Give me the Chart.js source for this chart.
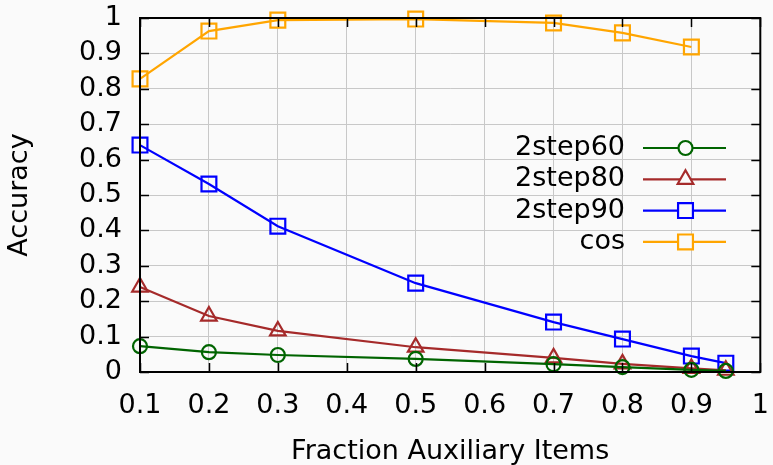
<!DOCTYPE html>
<html>
<head>
<meta charset="utf-8">
<script src="https://cdn.jsdelivr.net/npm/chart.js@4"></script>
<style>
  html, body { margin: 0; padding: 0; background: #fafafa; }
  #wrap { width: 773px; height: 465px; }
</style>
</head>
<body>
<div id="wrap"><canvas id="c" width="773" height="465"></canvas></div>
<script>
// Fraction of auxiliary items (x) and accuracy per method (y)
const fractions = [0.1, 0.2, 0.3, 0.5, 0.7, 0.8, 0.9, 0.95];
const cosFractions = [0.1, 0.2, 0.3, 0.5, 0.7, 0.8, 0.9];
const step60 = [0.073, 0.056, 0.048, 0.037, 0.022, 0.014, 0.006, 0.003];
const step80 = [0.240, 0.158, 0.116, 0.070, 0.040, 0.023, 0.010, 0.005];
const step90 = [0.641, 0.531, 0.412, 0.251, 0.141, 0.093, 0.045, 0.025];
const cosAcc = [0.828, 0.963, 0.994, 0.997, 0.986, 0.958, 0.918];
const xTicks = [0.1, 0.2, 0.3, 0.4, 0.5, 0.6, 0.7, 0.8, 0.9, 1];
const yTicks = [0, 0.1, 0.2, 0.3, 0.4, 0.5, 0.6, 0.7, 0.8, 0.9, 1];

const FONT = 'DejaVu Sans';
const FS = 27;
const pts = (xs, ys) => xs.map((x, i) => ({ x: x, y: ys[i] }));

function series(label, xs, ys, color, style, radius) {
  return {
    label: label,
    data: pts(xs, ys),
    borderColor: color,
    backgroundColor: 'rgba(0,0,0,0)',
    borderWidth: 2.2,
    pointStyle: style,
    pointRadius: radius,
    pointHoverRadius: radius,
    pointBorderColor: color,
    pointBackgroundColor: 'rgba(0,0,0,0)',
    pointBorderWidth: 2.2,
    tension: 0
  };
}

// Frame with inward tick marks on all four sides
const framePlugin = {
  id: 'frame',
  afterDatasetsDraw(chart) {
    const { ctx, chartArea: a, scales } = chart;
    ctx.save();
    ctx.strokeStyle = '#000';
    ctx.lineWidth = 1.5;
    const len = 9;
    ctx.beginPath();
    xTicks.forEach(v => {
      const px = Math.round(scales.x.getPixelForValue(v)) + 0.5;
      ctx.moveTo(px, a.bottom); ctx.lineTo(px, a.bottom - len);
      ctx.moveTo(px, a.top); ctx.lineTo(px, a.top + len);
    });
    yTicks.forEach(v => {
      const py = Math.round(scales.y.getPixelForValue(v)) + 0.5;
      ctx.moveTo(a.left, py); ctx.lineTo(a.left + len, py);
      ctx.moveTo(a.right, py); ctx.lineTo(a.right - len, py);
    });
    ctx.stroke();
    ctx.lineWidth = 2;
    ctx.strokeRect(a.left, a.top, a.right - a.left, a.bottom - a.top);
    ctx.restore();
  }
};

// Key drawn inside the plot, text right-aligned before each sample line
const keyPlugin = {
  id: 'key',
  afterDatasetsDraw(chart) {
    const { ctx } = chart;
    const textRight = 625, lineL = 643, lineR = 726, rowY0 = 148, rowH = 31.3;
    ctx.save();
    ctx.font = FS + 'px "' + FONT + '"';
    ctx.textAlign = 'right';
    ctx.textBaseline = 'middle';
    chart.data.datasets.forEach((ds, i) => {
      const y = rowY0 + i * rowH;
      ctx.fillStyle = '#000';
      ctx.fillText(ds.label, textRight, y);
      ctx.strokeStyle = ds.borderColor;
      ctx.lineWidth = 2.2;
      ctx.beginPath();
      ctx.moveTo(lineL, y); ctx.lineTo(lineR, y);
      ctx.stroke();
      ctx.fillStyle = '#fafafa';
      Chart.helpers.drawPoint(ctx, {
        pointStyle: ds.pointStyle, radius: ds.pointRadius, borderWidth: 2.2, rotation: 0
      }, (lineL + lineR) / 2 + 1, y);
    });
    ctx.restore();
  }
};

new Chart(document.getElementById('c'), {
  type: 'line',
  data: {
    datasets: [
      series('2step60', fractions, step60, '#006400', 'circle', 7),
      series('2step80', fractions, step80, '#a52a2a', 'triangle', 9),
      series('2step90', fractions, step90, '#0000ff', 'rect', 10.5),
      series('cos', cosFractions, cosAcc, '#ffa500', 'rect', 10.5)
    ]
  },
  options: {
    responsive: false,
    animation: false,
    clip: false,
    layout: { padding: { top: 18, right: 12, left: 0, bottom: 0 } },
    plugins: { legend: { display: false }, tooltip: { enabled: false } },
    scales: {
      x: {
        type: 'linear', min: 0.1, max: 1,
        afterBuildTicks(s) { s.ticks = xTicks.map(v => ({ value: v })); },
        afterFit(s) { s.height = 93; s.paddingLeft = 0; s.paddingRight = 0; },
        grid: { color: '#c8c8c8', lineWidth: 1, drawTicks: false },
        border: { display: false },
        ticks: {
          color: '#000', padding: 18, maxRotation: 0,
          font: { family: FONT, size: FS },
          callback: v => String(v)
        },
        title: {
          display: true, text: 'Fraction Auxiliary Items', color: '#000',
          font: { family: FONT, size: FS }, padding: { top: 16, bottom: -3 }
        }
      },
      y: {
        type: 'linear', min: 0, max: 1,
        afterBuildTicks(s) { s.ticks = yTicks.map(v => ({ value: v })); },
        afterFit(s) { s.width = 140; s.paddingTop = 0; s.paddingBottom = 0; },
        grid: { color: '#c8c8c8', lineWidth: 1, drawTicks: false },
        border: { display: false },
        ticks: {
          color: '#000', padding: 18,
          font: { family: FONT, size: FS },
          callback: v => String(v)
        },
        title: {
          display: true, text: 'Accuracy', color: '#000',
          font: { family: FONT, size: FS }, padding: { top: 4, bottom: 16 }
        }
      }
    }
  },
  plugins: [framePlugin, keyPlugin]
});
</script>
</body>
</html>
